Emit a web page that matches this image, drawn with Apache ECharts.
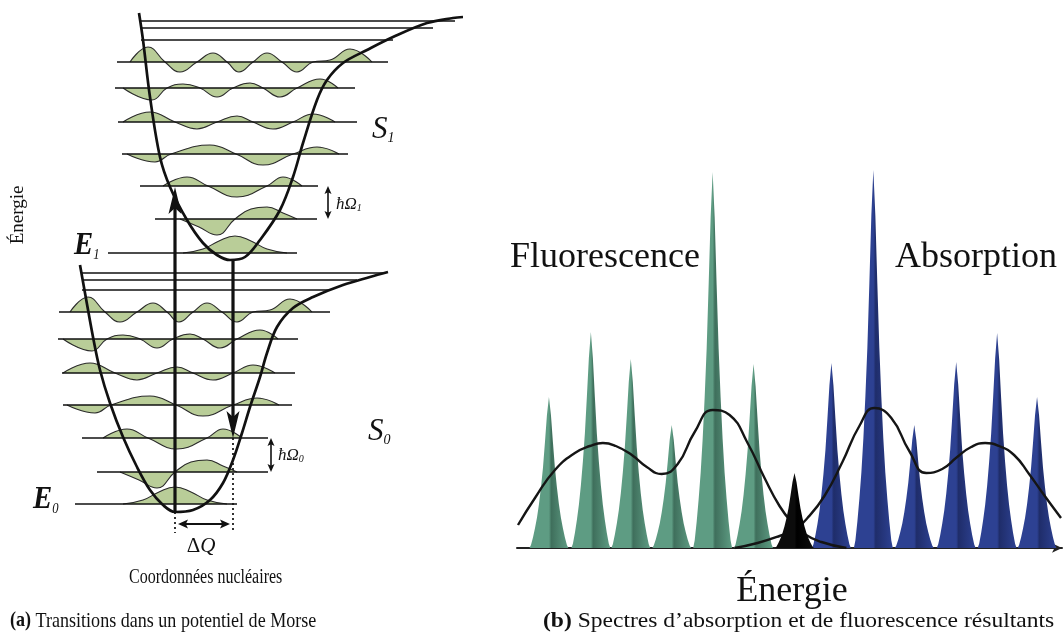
<!DOCTYPE html>
<html><head><meta charset="utf-8">
<script src="https://cdn.jsdelivr.net/npm/echarts@6/dist/echarts.min.js"></script>
<style>html,body{margin:0;padding:0;background:#fff}#c{width:1063px;height:634px}</style>
</head><body><div id="c"></div>
<script>
// ================= Panel (a): Morse potentials (Q = nuclear coordinate, E = energy) =================
const s0CurveQ = [80,85,93,100,110,123,137,150,163,175,193,210,223,233,242,250,260,267,277,293,313,343,370,388];
const s0CurveE = [369,341,297,264,231,197,167,144,129,122,124,134,151,174,201,227,257,281,307,326,337,349,357,362];
const s1CurveQ = [139,143,150,160,170,187,203,217,230,245,260,280,293,303,317,327,343,367,393,427,453,463];
const s1CurveE = [621,594,537,477,447,414,391,379,374,377,394,424,457,491,534,554,571,584,597,611,616,617];

// vibrational levels (energy) and horizontal extent of each level line
const s0LevelE     = [130,162,196,229,261,295,322];
const s0LevelStart = [75,97,82,63,62,58,59];
const s0LevelEnd   = [237,268,268,292,295,298,330];
const s1LevelE     = [381,415,448,480,512,546,572];
const s1LevelStart = [108,155,140,122,118,115,117];
const s1LevelEnd   = [297,317,318,348,357,355,388];

// dissociation continuum lines
const s0ContE = [344,354,361], s0ContStart = 82,  s0ContEnd = [330,357,385];
const s1ContE = [594,606,613], s1ContStart = 141, s1ContEnd = [393,433,455];

// centre of wavefunctions in each well
const psiCentre = [175, 235];
// vibrational wavefunctions: [Q offset from centre, amplitude]
const psiV0 = [[-52,0],[-32,4],[-16,12],[0,17],[16,12],[32,4],[52,0]];
const psiV1 = [[-55,0],[-36,-8],[-18,-16],[0,0],[16,10],[32,12],[48,6],[62,0]];
const psiV2 = [[-72,0],[-48,9],[-27,0],[2,-11],[32,0],[48,9],[67,0]];
const psiV3 = [[-108,0],[-80,-8],[-64,0],[-25,9],[1,0],[28,-11],[58,0],[82,7],[104,0]];
const psiV4 = [[-112,0],[-85,10],[-60,0],[-38,-7],[-18,0],[2,6],[18,0],[38,-7],[58,0],[78,8],[100,0]];
const psiV5 = [[-112,0],[-83,-12],[-68,0],[-52,4],[-35,0],[-18,-9],[-2,0],[15,5],[28,0],[45,-9],[62,0],[85,9],[103,0]];
const psiV6 = [[-105,0],[-87,15],[-70,0],[-55,-10],[-38,0],[-22,9],[-8,0],[4,-10],[18,0],[32,9],[47,0],[62,-10],[78,0],[95,2],[115,13],[137,0]];

// transition arrows [Q1, E1, Q2, E2]
const absorptionArrow = [175,122,175,447];
const emissionArrow   = [233,373,233,196];
const hw1Arrow = [328,415,328,448];
const hw0Arrow = [271,162,271,196];
const dQArrow  = [178,110,230,110];
const dropLines = [[175,122,175,101],[233,196,233,101]];

// ================= Panel (b): spectra (x = energy, y = intensity) =================
const fluoEnergy = [549,591,631,672,713,754];
const fluoHeight = [151,216,189,123,376,184];
const zeroEnergy = [795];
const zeroHeight = [75];
const absEnergy  = [832,874,915,957,998,1038];
const absHeight  = [185,378,123,186,215,151];
const fluoEnvE = [518,535,555,575,590,603,616,632,647,662,678,695,713,730,748,765,780,792,805,822,847];
const fluoEnvI = [23,50,78,95,102,105,102,93,81,74,84,116,138,133,105,70,42,26,14,6,0];
const absEnvE  = [735,758,780,794,808,825,843,860,875,892,910,927,943,958,972,986,1000,1015,1030,1045,1062];
const absEnvI  = [0,5,12,18,30,52,86,122,140,130,97,75,79,91,101,105,102,93,74,53,30];
// line shape of one vibronic peak: energy offset and fraction of peak height
const profileDx   = [-19.5,-18,-16,-14,-12,-10,-8,-6,-4,-2,0,2,4,6,8,10,12,14,16,18,19.5];
const profileFrac = [0,0.02,0.07,0.13,0.2,0.29,0.4,0.53,0.7,0.88,1,0.88,0.7,0.53,0.4,0.29,0.2,0.13,0.07,0.02,0];

// ================= build =================
const FONT = '"Liberation Serif","Times New Roman",serif';
const zip = (a, b) => a.map((v, i) => [v, b[i]]);
const series = [];
const psiAll = [psiV0, psiV1, psiV2, psiV3, psiV4, psiV5, psiV6];

[[s0LevelE, psiCentre[0]], [s1LevelE, psiCentre[1]]].forEach(([lv, c]) => {
  lv.forEach((E, i) => {
    series.push({
      type: 'line', xAxisIndex: 0, yAxisIndex: 0, silent: true, z: 1,
      data: psiAll[i].map(p => [c + p[0], E + p[1]]),
      smooth: 0.45, symbol: 'none',
      lineStyle: { color: '#2a2a2a', width: 1.1 },
      areaStyle: { color: '#b9cd98', opacity: 1, origin: E }
    });
  });
});

const levelLines = [];
s0LevelE.forEach((E, i) => levelLines.push({ coords: [[s0LevelStart[i], E], [s0LevelEnd[i], E]] }));
s1LevelE.forEach((E, i) => levelLines.push({ coords: [[s1LevelStart[i], E], [s1LevelEnd[i], E]] }));
s0ContE.forEach((E, i) => levelLines.push({ coords: [[s0ContStart, E], [s0ContEnd[i], E]] }));
s1ContE.forEach((E, i) => levelLines.push({ coords: [[s1ContStart, E], [s1ContEnd[i], E]] }));
series.push({
  type: 'lines', coordinateSystem: 'cartesian2d', xAxisIndex: 0, yAxisIndex: 0, silent: true, z: 3,
  data: levelLines, symbol: 'none', lineStyle: { color: '#111', width: 1.7, opacity: 1 }
});

[[s0CurveQ, s0CurveE], [s1CurveQ, s1CurveE]].forEach(([q, e]) => {
  series.push({
    type: 'line', xAxisIndex: 0, yAxisIndex: 0, silent: true, z: 4,
    data: zip(q, e), smooth: 0.35, symbol: 'none',
    lineStyle: { color: '#111', width: 2.7 }
  });
});

// arrows
const arrowStyles = [
  { w: 3.2, hl: 27, hw: 13, start: false, end: true, dash: null },
  { w: 3.2, hl: 27, hw: 13, start: false, end: true, dash: null },
  { w: 1.6, hl: 8, hw: 7, start: true, end: true, dash: null },
  { w: 1.6, hl: 8, hw: 7, start: true, end: true, dash: null },
  { w: 1.8, hl: 10, hw: 9, start: true, end: true, dash: null },
  { w: 1.7, hl: 0, hw: 0, start: false, end: false, dash: [2, 3] },
  { w: 1.7, hl: 0, hw: 0, start: false, end: false, dash: [2, 3] }
];
series.push({
  type: 'custom', xAxisIndex: 0, yAxisIndex: 0, silent: true, z: 6,
  data: [absorptionArrow, emissionArrow, hw1Arrow, hw0Arrow, dQArrow].concat(dropLines),
  encode: { x: [0, 2], y: [1, 3] },
  renderItem: function (params, api) {
    const st = arrowStyles[params.dataIndex];
    const p1 = api.coord([api.value(0), api.value(1)]);
    const p2 = api.coord([api.value(2), api.value(3)]);
    const dx = p2[0] - p1[0], dy = p2[1] - p1[1], L = Math.hypot(dx, dy);
    const ux = dx / L, uy = dy / L;
    const head = (tip, dx_, dy_) => {
      const bx = tip[0] - dx_ * st.hl, by = tip[1] - dy_ * st.hl;
      const nx = tip[0] - dx_ * st.hl * 0.78, ny = tip[1] - dy_ * st.hl * 0.78;
      return { type: 'polygon', shape: { points: [tip, [bx - dy_ * st.hw / 2, by + dx_ * st.hw / 2], [nx, ny], [bx + dy_ * st.hw / 2, by - dx_ * st.hw / 2]] }, style: { fill: '#111' } };
    };
    const a = st.start ? [p1[0] + ux * st.hl * 0.7, p1[1] + uy * st.hl * 0.7] : p1;
    const b = st.end ? [p2[0] - ux * st.hl * 0.7, p2[1] - uy * st.hl * 0.7] : p2;
    const children = [{ type: 'line', shape: { x1: a[0], y1: a[1], x2: b[0], y2: b[1] }, style: { stroke: '#111', lineWidth: st.w, lineDash: st.dash } }];
    if (st.end) children.push(head(p2, ux, uy));
    if (st.start) children.push(head(p1, -ux, -uy));
    return { type: 'group', children };
  }
});

// ---- panel (b)
function peakSeries(E, H, light, dark, z) {
  return {
    type: 'custom', xAxisIndex: 1, yAxisIndex: 1, silent: true, z: z,
    data: zip(E, H), encode: { x: 0, y: 1 },
    renderItem: function (params, api) {
      const c = api.value(0), h = api.value(1);
      const pts = profileDx.map((d, i) => api.coord([c + d, h * profileFrac[i]]));
      return { type: 'polygon', shape: { points: pts }, style: {
        fill: new echarts.graphic.LinearGradient(0, 0, 1, 0, [
          { offset: 0, color: light }, { offset: 0.5, color: light },
          { offset: 0.56, color: dark }, { offset: 1, color: light }]) } };
    }
  };
}
series.push(peakSeries(fluoEnergy, fluoHeight, '#5e9c83', '#3f6f5c', 2));
series.push(peakSeries(absEnergy, absHeight, '#2d4192', '#1f2d6a', 2));
series.push({
  type: 'line', xAxisIndex: 1, yAxisIndex: 1, silent: true, z: 4, data: zip(fluoEnvE, fluoEnvI),
  smooth: 0.5, symbol: 'none', lineStyle: { color: '#151515', width: 2.4 }
});
series.push({
  type: 'line', xAxisIndex: 1, yAxisIndex: 1, silent: true, z: 4, data: zip(absEnvE, absEnvI),
  smooth: 0.5, symbol: 'none', lineStyle: { color: '#151515', width: 2.4 }
});
series.push(peakSeries(zeroEnergy, zeroHeight, '#0c0c0c', '#000', 5));

// ---- texts
function T(x, y, text, o) {
  o = o || {};
  return {
    type: 'text', x: x, y: y, scaleX: o.sx || 1, rotation: o.rot || 0, z: 100, silent: true,
    style: {
      text: text, fill: '#111', fontFamily: FONT, fontSize: o.size || 20,
      fontStyle: o.italic ? 'italic' : 'normal', fontWeight: o.bold ? 'bold' : 'normal',
      align: o.align || 'left', verticalAlign: o.va || 'middle',
      textAlign: o.align || 'left', textVerticalAlign: o.va || 'middle',
      rich: o.rich
    }
  };
}
const subRich = (big, small, w) => ({
  m: { fontFamily: FONT, fontStyle: 'italic', fontWeight: w || 'normal', fontSize: big, fill: '#111' },
  s: { fontFamily: FONT, fontStyle: 'italic', fontSize: small, fill: '#111', verticalAlign: 'bottom' }
});
const graphics = [
  T(18, 215, 'Énergie', { size: 19, rot: Math.PI / 2, align: 'center' }),
  T(74, 246, '{m|E}{s|1}', { rich: subRich(32, 14, 'bold'), sx: 0.9 }),
  T(33, 500, '{m|E}{s|0}', { rich: subRich(32, 14, 'bold'), sx: 0.9 }),
  T(372, 130, '{m|S}{s|1}', { rich: subRich(31, 14) }),
  T(368, 432, '{m|S}{s|0}', { rich: subRich(31, 14) }),
  T(336, 205, '{m|ħΩ}{s|1}', { rich: subRich(17, 10) }),
  T(278, 456, '{m|ħΩ}{s|0}', { rich: subRich(17, 10) }),
  T(201, 546, '{u|Δ}{m|Q}', { align: 'center', rich: {
      u: { fontFamily: FONT, fontSize: 21, fill: '#111' },
      m: { fontFamily: FONT, fontStyle: 'italic', fontSize: 21, fill: '#111' } } }),
  T(129, 578, 'Coordonnées nucléaires', { size: 20, sx: 0.8 }),
  T(10, 621, '{b|(a)} Transitions dans un potentiel de Morse', { size: 21, sx: 0.86, rich: {
      b: { fontFamily: FONT, fontWeight: 'bold', fontSize: 21, fill: '#111' } } }),
  T(543, 621, '{b|(b)} Spectres d’absorption et de fluorescence résultants', { size: 22, sx: 1.07, rich: {
      b: { fontFamily: FONT, fontWeight: 'bold', fontSize: 22, fill: '#111' } } }),
  T(510, 258, 'Fluorescence', { size: 36 }),
  T(895, 258, 'Absorption', { size: 36 }),
  T(792, 592, 'Énergie', { size: 36, align: 'center' })
];

const chart = echarts.init(document.getElementById('c'));
chart.setOption({
  animation: false,
  backgroundColor: '#fff',
  grid: [
    { left: 0, top: 0, width: 500, height: 634 },
    { left: 517, top: 0, right: 1, bottom: 86 }
  ],
  xAxis: [
    { type: 'value', gridIndex: 0, min: 0, max: 500, show: false },
    { type: 'value', gridIndex: 1, min: 517, max: 1063, show: true,
      axisLine: { show: true, onZero: true, symbol: ['none', 'arrow'], symbolSize: [7, 10], lineStyle: { color: '#222', width: 2 } },
      axisTick: { show: false }, axisLabel: { show: false }, splitLine: { show: false } }
  ],
  yAxis: [
    { type: 'value', gridIndex: 0, min: 0, max: 634, show: false },
    { type: 'value', gridIndex: 1, min: 0, max: 548, show: false }
  ],
  series: series,
  graphic: { elements: graphics }
});
</script></body></html>
